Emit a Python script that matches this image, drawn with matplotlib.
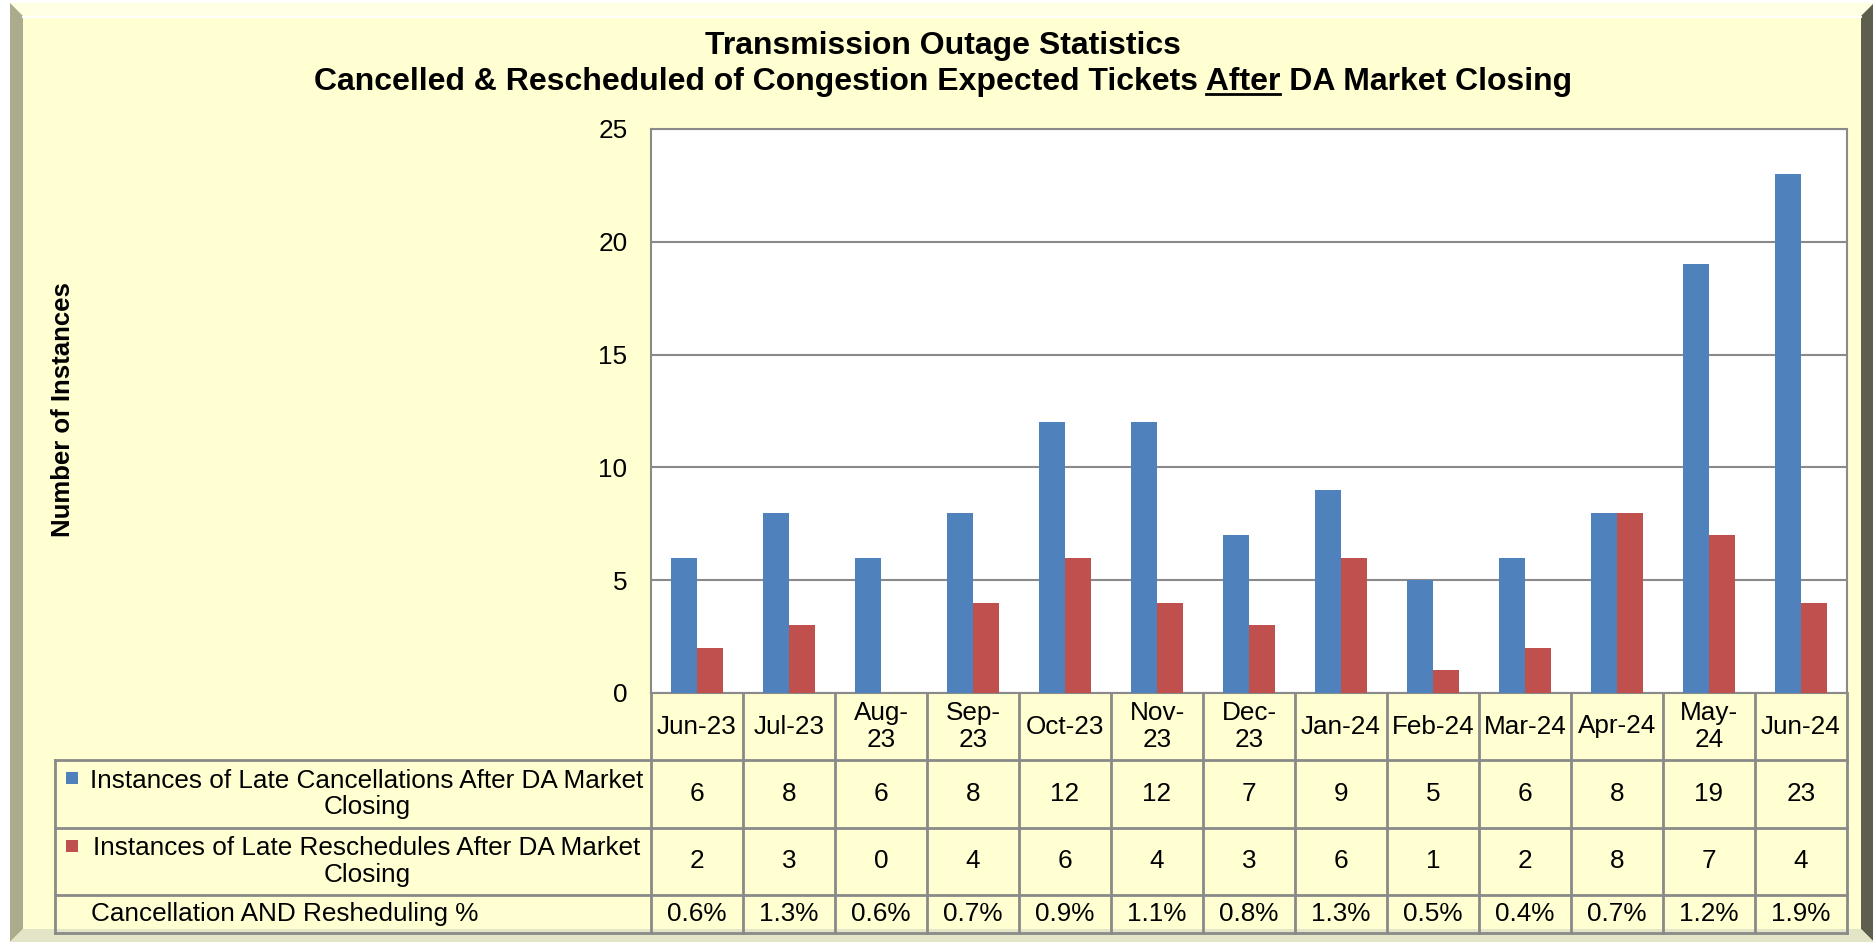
import matplotlib
matplotlib.use("Agg")
import matplotlib.pyplot as plt
import numpy as np
from matplotlib.patches import Polygon, Rectangle
from matplotlib.lines import Line2D
from matplotlib.transforms import blended_transform_factory

plt.rcParams['font.family'] = ['Liberation Sans', 'DejaVu Sans']

# ---------------- data ----------------
months = ["Jun-23", "Jul-23", "Aug-\n23", "Sep-\n23", "Oct-23", "Nov-\n23", "Dec-\n23",
          "Jan-24", "Feb-24", "Mar-24", "Apr-24", "May-\n24", "Jun-24"]
cancellations = [6, 8, 6, 8, 12, 12, 7, 9, 5, 6, 8, 19, 23]
reschedules = [2, 3, 0, 4, 6, 4, 3, 6, 1, 2, 8, 7, 4]
pct_labels = ["0.6%", "1.3%", "0.6%", "0.7%", "0.9%", "1.1%", "0.8%",
              "1.3%", "0.5%", "0.4%", "0.7%", "1.2%", "1.9%"]
series_names = ["Instances of Late Cancellations After DA Market\nClosing",
                "Instances of Late Reschedules After DA Market\nClosing"]
pct_name = "Cancellation AND Resheduling %"
title1 = "Transmission Outage Statistics"
title2_pre = "Cancelled & Rescheduled of Congestion Expected Tickets "
title2_u = "After"
title2_post = " DA Market Closing"
ylabel = "Number of Instances"
yticks = [0, 5, 10, 15, 20, 25]

# ---------------- styling ----------------
W, H = 1874, 943
BLUE = "#4F81BD"
RED = "#C0504D"
BG = "#FFFFD2"
GRID = "#8A8A8A"
FS = 18.8
TFS = 23

fig = plt.figure(figsize=(W / 100, H / 100), dpi=100)
fig.patch.set_facecolor("white")


def fx(px):
    return px / W


def fy(py):
    return 1 - py / H


# frame with bevel
x0, x1, y0, y1, b = 10, 1874, 3, 942, 13
fig.patches.append(Rectangle((fx(x0), fy(y1)), fx(x1 - x0), (y1 - y0) / H,
                             transform=fig.transFigure, facecolor=BG, edgecolor="none", zorder=-5))
bevels = [
    ([(x0, y0), (x1, y0), (x1 - b, y0 + b), (x0 + b, y0 + b)], "#FFFFE4"),
    ([(x0, y0), (x0 + b, y0 + b), (x0 + b, y1 - b), (x0, y1)], "#ABAB8E"),
    ([(x1, y0), (x1, y1), (x1 - b, y1 - b), (x1 - b, y0 + b)], "#5E5E4E"),
    ([(x0, y1), (x1, y1), (x1 - b, y1 - b), (x0 + b, y1 - b)], "#E4E4C6"),
]
for pts, c in bevels:
    fig.patches.append(Polygon([(fx(a), fy(bb)) for a, bb in pts], closed=True,
                               transform=fig.transFigure, facecolor=c, edgecolor="none", zorder=-4))
fig.lines.append(Line2D([fx(x0 + b), fx(x1 - b)], [fy(y0 + b + 1)] * 2, transform=fig.transFigure,
                        color="white", lw=1.5, zorder=-3))

# plot area
PL, PR, PT, PB = 651, 1847, 129, 693
ax = fig.add_axes([fx(PL), fy(PB), fx(PR - PL), (PB - PT) / H])
ax.set_zorder(2)
ax.set_facecolor("white")
x = np.arange(len(months))
w = 1 / 3.5
ax.bar(x - w / 2, cancellations, w, color=BLUE, zorder=3)
ax.bar(x + w / 2, reschedules, w, color=RED, zorder=3)
ax.set_xlim(-0.5, len(months) - 0.5)
ax.set_ylim(0, 25)
ax.set_yticks(yticks)
ax.set_yticklabels([str(v) for v in yticks], fontsize=FS)
ax.tick_params(axis="y", length=0, pad=17)
ax.set_xticks([])
ax.yaxis.grid(True, color=GRID, lw=1.5, zorder=0)
for s in ax.spines.values():
    s.set_color(GRID)
    s.set_linewidth(1.5)

# y label
fig.text(fx(63), fy(410), ylabel, rotation=90, ha="center", va="center",
         fontsize=18.5, fontweight="bold")

# titles
fig.text(fx(943), fy(46), title1, ha="center", va="center", fontsize=TFS, fontweight="bold")
t2 = fig.text(fx(943), fy(82), title2_pre + title2_u + title2_post, ha="center", va="center",
              fontsize=TFS, fontweight="bold")
fig.canvas.draw()
r = fig.canvas.get_renderer()


def width_of(s):
    t = fig.text(0, 0, s, fontsize=TFS, fontweight="bold")
    wdt = t.get_window_extent(r).width
    t.remove()
    return wdt


bb2 = t2.get_window_extent(r)
w_a = width_of(title2_pre + title2_u)
w_u = width_of(title2_u)
ux0 = bb2.x0 + w_a - w_u
ux1 = bb2.x0 + w_a
uy = bb2.y0 + 3
fig.lines.append(Line2D([ux0 / W, ux1 / W], [uy / H, uy / H], transform=fig.transFigure,
                        color="black", lw=2))

# data table
trans = blended_transform_factory(ax.transData, fig.transFigure)
TL = 55
rows = [693, 760, 828, 895, 933]
edges = np.arange(len(months) + 1) - 0.5
lkw = dict(color=GRID, lw=2, clip_on=False, zorder=5)
for i, yy in enumerate(rows):
    if i == 0:
        continue
    fig.lines.append(Line2D([fx(TL), fx(PR)], [fy(yy)] * 2, transform=fig.transFigure, **lkw))
fig.lines.append(Line2D([fx(TL), fx(TL)], [fy(rows[1]), fy(rows[-1])], transform=fig.transFigure, **lkw))
for e in edges:
    fig.lines.append(Line2D([e, e], [fy(rows[0]), fy(rows[-1])], transform=trans, **lkw))

tkw = dict(ha="center", va="center", fontsize=FS, transform=trans)
for i, m in enumerate(months):
    fig.text(x[i], fy((rows[0] + rows[1]) / 2), m, linespacing=1.12, **tkw)
    fig.text(x[i], fy((rows[1] + rows[2]) / 2), str(cancellations[i]), **tkw)
    fig.text(x[i], fy((rows[2] + rows[3]) / 2), str(reschedules[i]), **tkw)
    fig.text(x[i], fy((rows[3] + rows[4]) / 2), pct_labels[i], **tkw)

# row headers
for k, (name, col) in enumerate(zip(series_names, [BLUE, RED])):
    yc = (rows[k + 1] + rows[k + 2]) / 2
    fig.text(fx(367), fy(yc), name, ha="center", va="center", fontsize=FS,
             multialignment="center", linespacing=1.15)
    fig.patches.append(Rectangle((fx(66), fy(yc - 10)), fx(12), 12 / H, transform=fig.transFigure,
                                 facecolor=col, edgecolor="none", zorder=5))
fig.text(fx(91), fy((rows[3] + rows[4]) / 2), pct_name, ha="left", va="center", fontsize=FS)

fig.savefig("out.png", dpi=100, facecolor="white")
